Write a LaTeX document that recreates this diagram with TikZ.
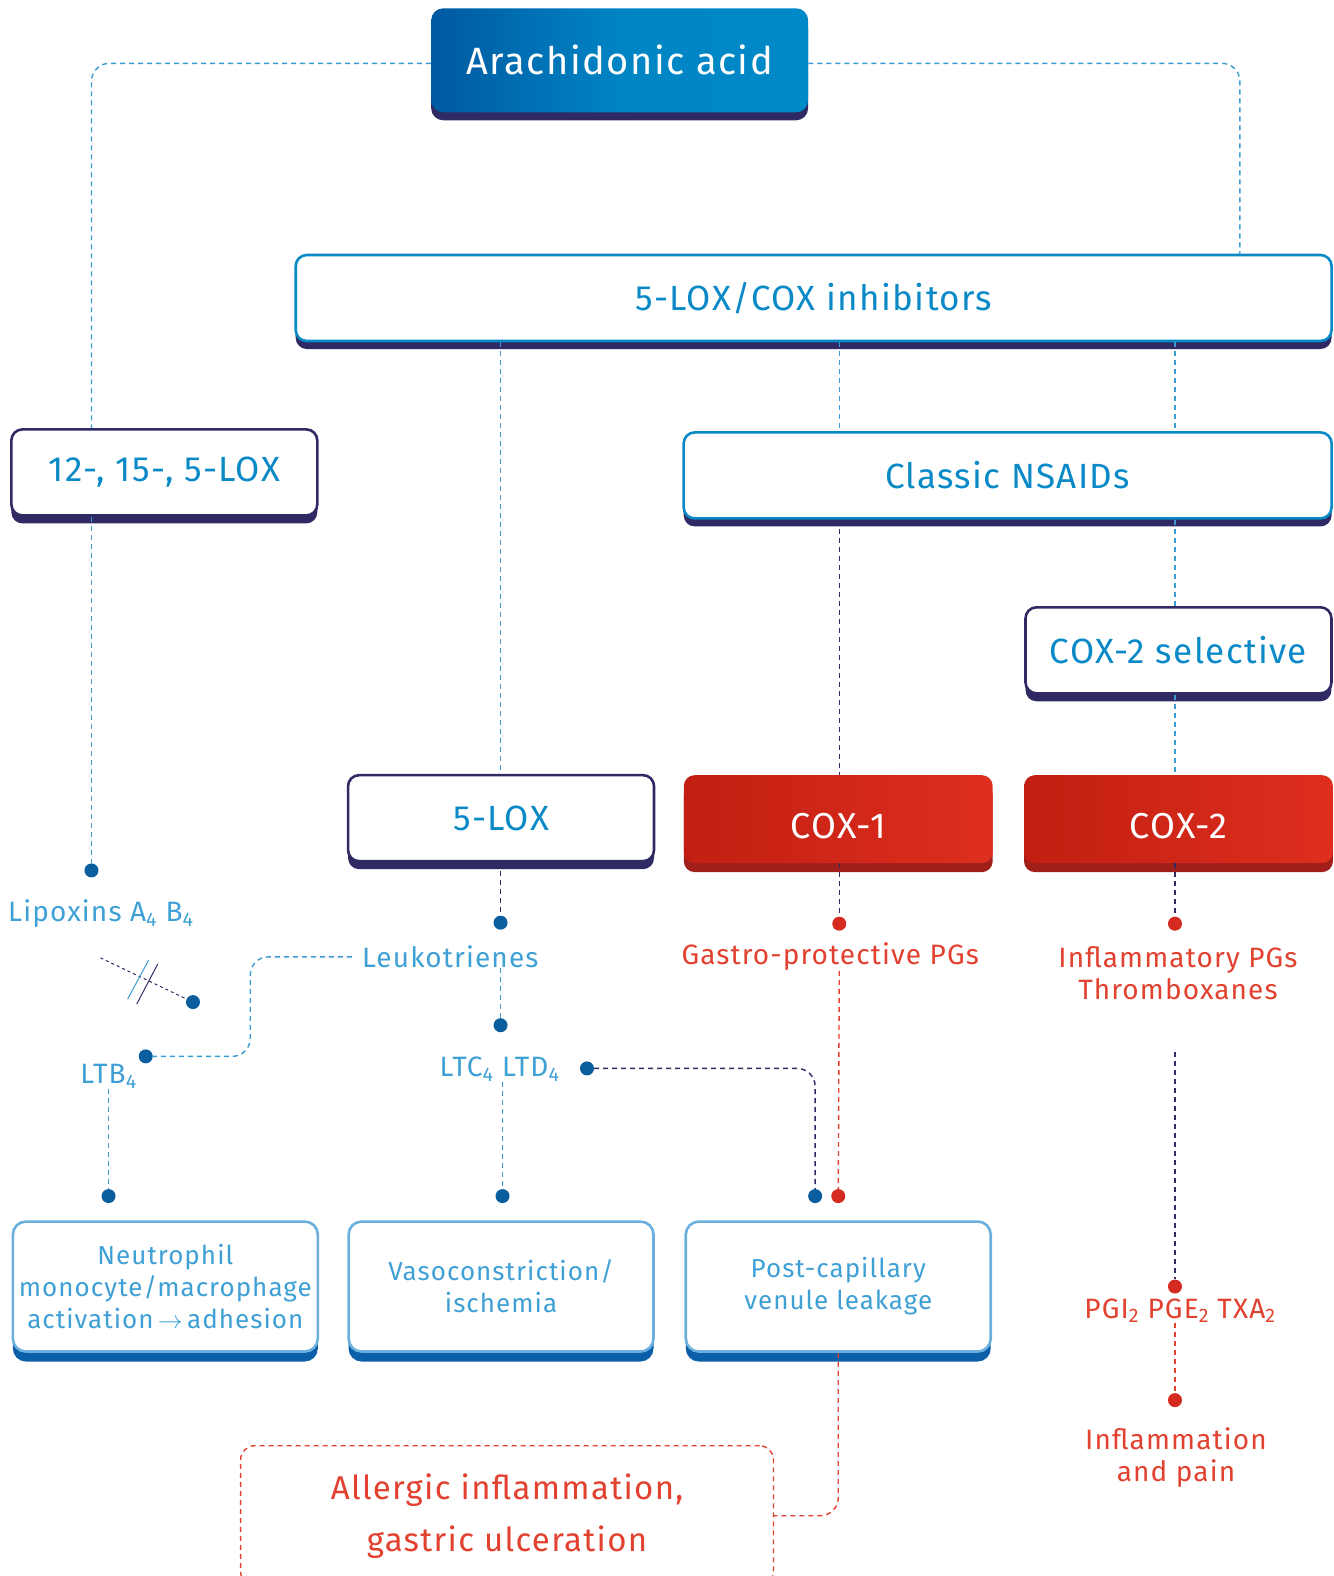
\documentclass[tikz,border=0pt]{standalone}
\usepackage{fontspec}
\setmainfont[LetterSpace=4]{Fira Sans}
\usetikzlibrary{shadows}

\definecolor{aadark}{HTML}{0059A1}
\definecolor{aalight}{HTML}{0089C8}
\definecolor{boxblue}{HTML}{0A89C7}
\definecolor{shpurple}{HTML}{2F2A63}
\definecolor{lineblue}{HTML}{3A9BD2}
\definecolor{labelblue}{HTML}{3FA0D6}
\definecolor{dotblue}{HTML}{0B5E9E}
\definecolor{coxdark}{HTML}{C21F12}
\definecolor{coxlight}{HTML}{DE2E1E}
\definecolor{coxshadow}{HTML}{A11F1A}
\definecolor{txtred}{HTML}{E2412F}
\definecolor{dotred}{HTML}{D42A1F}
\definecolor{botline}{HTML}{6AAFDD}
\definecolor{botshadow}{HTML}{0B5FA8}

\begin{document}
\begin{tikzpicture}[x=1.0053pt,y=-1.0053pt,
	conn/.style={line width=1.4pt, dash pattern=on 5pt off 4pt, rounded corners=18pt},
	lb/.style={conn, draw=lineblue},
	lp/.style={conn, draw=shpurple},
	lr/.style={conn, draw=txtred},
	topbox/.style={rounded corners=11pt, draw=boxblue, line width=2.6pt, fill=white, text=boxblue,
		font=\fontsize{35}{40}\selectfont, general shadow={fill=shpurple, shadow yshift=-8pt}},
	aabox/.style={rounded corners=12pt, left color=aadark, right color=aalight, middle color=aalight!90!aadark,
		text=white, font=\fontsize{38}{44}\selectfont, general shadow={fill=shpurple, shadow yshift=-8pt}},
	coxbox/.style={rounded corners=11pt, left color=coxdark, right color=coxlight, text=white,
		font=\fontsize{36}{40}\selectfont, text depth=0pt, text height=38pt,
		general shadow={fill=coxshadow, shadow yshift=-9pt}},
	botbox/.style={rounded corners=13pt, draw=botline, line width=2.6pt, fill=white, text=labelblue, align=center,
		font=\fontsize{26}{32}\selectfont, minimum width=305pt, minimum height=130pt,
		general shadow={fill=botshadow, shadow yshift=-10pt}},
	lbl/.style={text=labelblue, font=\fontsize{28}{32}\selectfont, inner sep=0pt},
	rlbl/.style={text=txtred, font=\fontsize{28}{32}\selectfont, inner sep=0pt, align=center},
	bdot/.style={circle, fill=dotblue, inner sep=0pt, minimum size=14pt},
	rdot/.style={circle, fill=dotred, inner sep=0pt, minimum size=14pt}]
	\useasboundingbox (0,0) rectangle (1327,1568);

	\node[aabox, minimum width=377pt, minimum height=104pt] (aa) at (616.5,60) {Arachidonic acid};
	\node[topbox, minimum width=1036pt, minimum height=86pt] (inh) at (809.5,296.5) {5-LOX/COX inhibitors};
	\node[topbox, draw=shpurple, minimum width=306pt, minimum height=86pt] (lox12) at (163.5,470) {12-, 15-, 5-LOX};
	\node[topbox, minimum width=648pt, minimum height=86pt] (nsaid) at (1002.5,473) {Classic NSAIDs};
	\node[topbox, draw=shpurple, minimum width=306pt, minimum height=86pt] (cox2sel) at (1172.5,647) {COX-2 selective};
	\node[topbox, draw=shpurple, minimum width=306pt, minimum height=86pt] (lox5) at (498.5,814) {5-LOX};
	\node[coxbox, minimum width=309pt, minimum height=88pt] (cox1) at (834,815) {COX-1};
	\node[coxbox, minimum width=309pt, minimum height=88pt] (cox2) at (1172.5,815) {COX-2};

	\node[botbox] (neut) at (164.5,1280) {Neutrophil\\monocyte/macrophage\\activation\,$\rightarrow$\,adhesion};
	\node[botbox] (vaso) at (498.5,1280) {Vasoconstriction/\\ischemia};
	\node[botbox] (post) at (834,1280) {Post-capillary\\venule leakage};
	\node[draw=txtred, line width=1.4pt, dash pattern=on 5pt off 4pt, rounded corners=14pt, minimum width=533pt,
		minimum height=140pt, text=txtred, align=center, font=\fontsize{33}{52}\selectfont] (allergic) at (504.5,1508)
		{Allergic inflammation,\\gastric ulceration};

	\node[bdot] (d1) at (91,866) {};
	\node[bdot] (d2) at (192,997) {};
	\node[bdot] (d3) at (145,1051) {};
	\node[bdot] (d4) at (108,1190) {};
	\node[bdot] (d5) at (498,918) {};
	\node[bdot] (d6) at (498,1020) {};
	\node[bdot] (d7) at (584,1063) {};
	\node[bdot] (d8) at (500,1190) {};
	\node[bdot] (d9) at (811,1190) {};
	\node[rdot] (r1) at (835,919) {};
	\node[rdot] (r2) at (834,1190) {};
	\node[rdot] (r3) at (1169,919) {};
	\node[rdot] (r4) at (1169,1280) {};
	\node[rdot] (r5) at (1169,1393) {};

	\node[lbl, anchor=west] (lipox) at (8,909) {Lipoxins A\textsubscript{4} B\textsubscript{4}};
	\node[lbl] (leuko) at (448,952) {Leukotrienes};
	\node[lbl] (ltb) at (108,1071) {LTB\textsubscript{4}};
	\node[lbl] (ltcd) at (497,1064) {LTC\textsubscript{4} LTD\textsubscript{4}};
	\node[rlbl] (gastro) at (826,952) {Gastro-protective PGs};
	\node[rlbl] (inflpg) at (1172,968) {Inflammatory PGs\\Thromboxanes};
	\node[rlbl] (pgi) at (1174,1304) {PGI\textsubscript{2} PGE\textsubscript{2} TXA\textsubscript{2}};
	\node[rlbl] (pain) at (1170,1450) {Inflammation\\and pain};

	\coordinate (lxstart) at (100,953);
	\coordinate (lkbend) at (249,1000);
	\coordinate (pgtop) at (1169,1047);

	\draw[lb] ([yshift=-3pt]aa.west) -| (lox12.north -| d1);
	\draw[lb] ([yshift=-3pt]aa.east) -| ([xshift=-93pt]inh.north east);
	\draw[lb] (inh.south -| d5) -- (lox5.north -| d5);
	\draw[lb] (inh.south -| r1) -- (nsaid.north -| r1);
	\draw[lb] (inh.south -| r3) -- (nsaid.north -| r3);
	\draw[lp] (nsaid.south -| r1) -- (cox1.north -| r1);
	\draw[lb] (nsaid.south -| r3) -- (cox2sel.north -| r3);
	\draw[lb] (cox2sel.south -| r3) -- (cox2.north -| r3);
	\draw[lb] (lox12.south -| d1) -- (d1);
	\draw[lp] (lox5.south -| d5) -- (d5);
	\draw[lp] (cox1.south -| r1) -- (r1);
	\draw[lp] (cox2.south -| r3) -- (r3);

	\draw[lp, line width=1pt, dash pattern=on 3pt off 3pt] (lxstart) -- (d2);
	\draw[lb, line width=1pt, solid] (127,994) -- (148,955);
	\draw[lp, line width=1pt, solid] (136,999) -- (157,959);
	\draw[lb] ([xshift=-10pt]leuko.west) -| (lkbend) |- (d3);
	\draw[lb] (ltb.south) -- (d4);
	\draw[lb] (d5 |- leuko.south) -- (d6);
	\draw[lb] (ltcd.south -| d8) -- (d8);
	\draw[lp] (d7) -| (d9);
	\draw[lr] (gastro.south -| r1) -- (r2);
	\draw[lp] (pgtop) -- (r4);
	\draw[lr] (pgi.south -| r3) -- (r5);
	\draw[lr] (post.south) |- (allergic.east);
\end{tikzpicture}
\end{document}
